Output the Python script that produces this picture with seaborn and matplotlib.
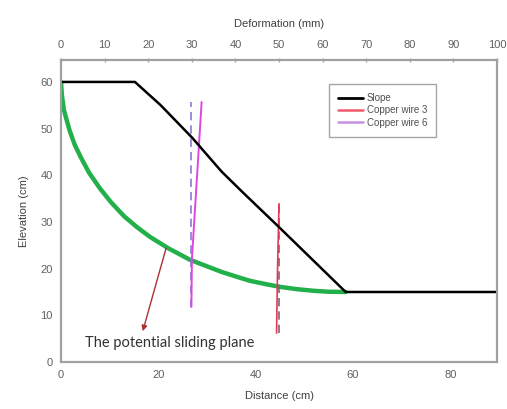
import matplotlib
matplotlib.use("Agg")
import matplotlib.pyplot as plt
import seaborn as sns

# Slope surface profile (distance cm, elevation cm)
slope_x = [0, 15.2, 20.5, 27.0, 33.0, 37.3, 44.7, 58.5, 90]
slope_y = [60, 60, 55.0, 48.0, 40.8, 36.4, 29.0, 15.0, 15.0]

# Potential sliding plane
arc_x = [0, 0.2, 0.6, 1.2, 1.8, 2.8, 4.0, 5.8, 8.0, 10.3, 13.0, 15.6, 18.3,
         22.0, 26.5, 30.0, 33.0, 36.0, 38.8, 42.0, 45.0, 48.5, 52.0, 55.0, 58.5]
arc_y = [60, 57.0, 54.0, 51.7, 49.5, 46.6, 44.0, 40.5, 37.2, 34.2, 31.2, 28.9, 26.8,
         24.4, 21.9, 20.5, 19.3, 18.3, 17.4, 16.7, 16.1, 15.6, 15.25, 15.05, 15.0]

# Copper wire 6: initial and deformed positions
wire6_init_x = [26.8, 26.8]
wire6_init_y = [11.8, 55.7]
wire6_def_x = [26.8, 26.9, 28.9]
wire6_def_y = [11.8, 22.0, 55.7]

# Copper wire 3: initial and deformed positions
wire3_init_x = [44.9, 44.9]
wire3_init_y = [6.2, 33.9]
wire3_def_x = [44.3, 44.5, 44.8]
wire3_def_y = [6.2, 20.0, 33.9]

bottom_ticks = [0, 20, 40, 60, 80]
top_ticks = [0, 10, 20, 30, 40, 50, 60, 70, 80, 90, 100]
y_ticks = [0, 10, 20, 30, 40, 50, 60]

sns.set_theme(style="white")
plt.rcParams["font.family"] = ["Liberation Sans", "DejaVu Sans"]

fig = plt.figure(figsize=(5.07, 4.09), dpi=100)
ax = fig.add_axes([0.1203, 0.1149, 0.8600, 0.7384])

spine_c = "#a0a0a0"
tick_c = "#606060"
label_c = "#404040"

sns.lineplot(x=arc_x, y=arc_y, ax=ax, sort=False, estimator=None,
             color="#22b04a", lw=3.2, zorder=2)
sns.lineplot(x=wire6_init_x, y=wire6_init_y, ax=ax, sort=False, estimator=None,
             color="#8a7ad8", lw=1.2, linestyle=(0, (5, 3)), zorder=3)
sns.lineplot(x=wire6_def_x, y=wire6_def_y, ax=ax, sort=False, estimator=None,
             color="#e045e0", lw=1.4, zorder=3)
sns.lineplot(x=wire3_init_x, y=wire3_init_y, ax=ax, sort=False, estimator=None,
             color="#8a6070", lw=1.2, linestyle=(0, (5, 3)), zorder=3)
sns.lineplot(x=wire3_def_x, y=wire3_def_y, ax=ax, sort=False, estimator=None,
             color="#e03a55", lw=1.2, zorder=3)
sns.lineplot(x=slope_x, y=slope_y, ax=ax, sort=False, estimator=None,
             color="black", lw=1.8, zorder=4)

ax.set_xlim(0, 89.6)
ax.set_ylim(0, 64.7)
ax.set_xticks(bottom_ticks)
ax.set_yticks(y_ticks)
ax.tick_params(axis="both", length=0, labelsize=8, colors=tick_c, pad=6)
ax.set_xlabel("Distance (cm)", fontsize=8, color=label_c, labelpad=8)
ax.set_ylabel("Elevation (cm)", fontsize=8, color=label_c, labelpad=8)
for s in ax.spines.values():
    s.set_color(spine_c)
    s.set_linewidth(1.5)

# Deformation scale on top
top = ax.twiny()
top.set_xlim(0, 100)
top.set_xticks(top_ticks)
top.tick_params(axis="x", length=3, width=1, color=spine_c, direction="inout",
                labelsize=8, labelcolor=tick_c, pad=6)
top.set_xlabel("Deformation (mm)", fontsize=8, color=label_c, labelpad=9)
for s in top.spines.values():
    s.set_color(spine_c)
    s.set_linewidth(1.5)

# Legend
handles = [
    plt.Line2D([], [], color="black", lw=2.0),
    plt.Line2D([], [], color="#f05a6a", lw=1.8),
    plt.Line2D([], [], color="#c690e0", lw=1.8),
]
leg = ax.legend(handles, ["Slope", "Copper wire 3", "Copper wire 6"],
                loc="upper left", bbox_to_anchor=(0.615, 0.92),
                fontsize=7, frameon=True, fancybox=False, handlelength=2.6,
                handletextpad=0.4, borderpad=0.9, labelspacing=0.25,
                borderaxespad=0)
leg.get_frame().set_edgecolor("#909090")
leg.get_frame().set_linewidth(1.0)
for t in leg.get_texts():
    t.set_color("#505050")

# Annotation for the sliding plane
ax.annotate("", xy=(16.8, 6.6), xytext=(21.6, 24.4),
            arrowprops=dict(arrowstyle="-|>", color="#b03030", lw=1.0,
                            mutation_scale=8, shrinkA=0, shrinkB=0), zorder=5)
ax.text(4.9, 4.1, "The potential sliding plane", fontsize=10.5,
        family=["Lato", "DejaVu Sans"], color="#333333", va="center", ha="left")

fig.savefig("out.png", dpi=100)
